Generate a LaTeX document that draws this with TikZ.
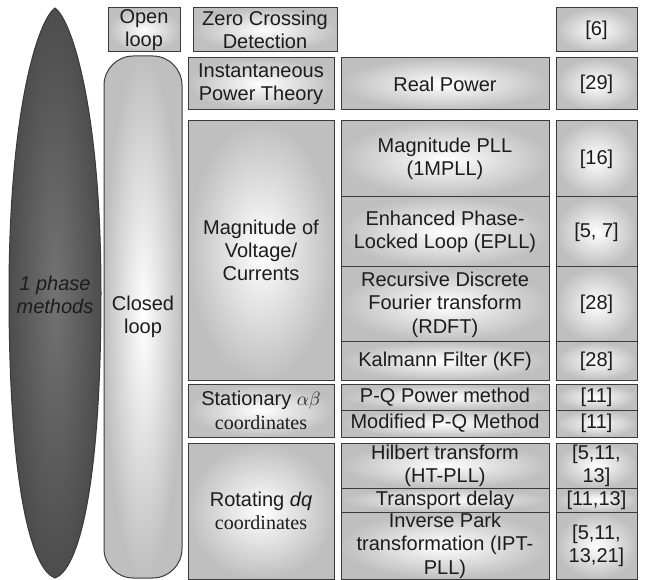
\documentclass[tikz,border=0pt]{standalone}
\usepackage{fontspec}
\setmainfont{Liberation Sans}
\newfontfamily\coordfont{Liberation Serif}

\definecolor{edgegray}{HTML}{3A3A3A}
\definecolor{inkgray}{HTML}{1C1C1C}

\tikzset{
    wh/.style 2 args={minimum width=#1*0.75pt, minimum height=#2*0.75pt},
    cell/.style={draw=edgegray, line width=0.75pt, inner color=white, outer color=black!25,
        align=center, inner sep=0.5pt, text=inkgray, font=\fontsize{15}{17.5}\selectfont},
}

\begin{document}
\begin{tikzpicture}[x=0.75pt, y=-0.75pt]
            \useasboundingbox (0, 0) rectangle (645, 580);

            \path[draw=edgegray, line width=0.75pt, inner color=black!55, outer color=black!70]
                (55, 8) .. controls (72, 20) and (101, 110) .. (101, 293)
                .. controls (101, 490) and (78, 570) .. (55, 578)
                .. controls (32, 570) and (9, 490) .. (9, 293)
                .. controls (9, 110) and (38, 20) .. (55, 8) -- cycle;
            \node[align=center, inner sep=0pt, text=inkgray, font=\fontsize{15}{17.5}\selectfont\itshape]
                (phase) at (55, 295) {1 phase\\methods};

            \node[cell, wh={72}{44}] (open) at (144, 30) {Open\\loop};
            \node[cell, wh={78}{522}, rounded corners=22pt] (closed) at (143, 317) {Closed\\loop};

            \node[cell, wh={144}{44}] (zcd) at (265, 30) {Zero Crossing\\Detection};
            \node[cell, wh={146}{52}] (ipt) at (261, 84) {Instantaneous\\Power Theory};
            \node[cell, wh={146}{259}] (mag) at (261, 250.5) {Magnitude of\\Voltage/\\Currents};
            \node[cell, wh={146}{53}] (stat) at (261, 410.5) {Stationary $\alpha\beta$\\{\coordfont coordinates}};
            \node[cell, wh={146}{136}] (rot) at (261, 511) {Rotating \textit{dq}\\{\coordfont coordinates}};

            \node[cell, wh={208}{52}] (real) at (445, 84) {Real Power};
            \node[cell, wh={208}{76}] (mpll) at (445, 159) {Magnitude PLL\\(1MPLL)};
            \node[cell, wh={208}{70}] (epll) at (445, 232) {Enhanced Phase-\\Locked Loop (EPLL)};
            \node[cell, wh={208}{75}] (rdft) at (445, 304.5) {Recursive Discrete\\Fourier transform\\(RDFT)};
            \node[cell, wh={208}{38}] (kf) at (445, 361) {Kalmann Filter (KF)};
            \node[cell, wh={208}{26}] (pq) at (445, 397) {P-Q Power method};
            \node[cell, wh={208}{27}] (mpq) at (445, 423.5) {Modified P-Q Method};
            \node[cell, wh={208}{45}] (ht) at (445, 465.5) {Hilbert transform\\(HT-PLL)};
            \node[cell, wh={208}{24}] (td) at (445, 500) {Transport delay};
            \node[cell, wh={208}{67}] (iptpll) at (445, 545.5) {Inverse Park\\transformation (IPT-\\PLL)};

            \node[cell, wh={81}{44}] (r6) at (596.5, 30) {[6]};
            \node[cell, wh={81}{52}] (r29) at (596.5, 84) {[29]};
            \node[cell, wh={81}{76}] (r16) at (596.5, 159) {[16]};
            \node[cell, wh={81}{70}] (r57) at (596.5, 232) {[5, 7]};
            \node[cell, wh={81}{75}] (r28a) at (596.5, 304.5) {[28]};
            \node[cell, wh={81}{38}] (r28b) at (596.5, 361) {[28]};
            \node[cell, wh={81}{26}] (r11a) at (596.5, 397) {[11]};
            \node[cell, wh={81}{27}] (r11b) at (596.5, 423.5) {[11]};
            \node[cell, wh={81}{45}] (r51113) at (596.5, 465.5) {[5,11,\\13]};
            \node[cell, wh={81}{24}] (r1113) at (596.5, 500) {[11,13]};
            \node[cell, wh={81}{67}] (r5111321) at (596.5, 545.5) {[5,11,\\13,21]};
        \end{tikzpicture}
\end{document}
